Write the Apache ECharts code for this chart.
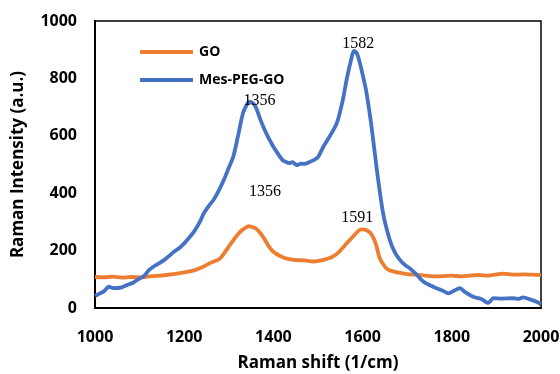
<!DOCTYPE html>
<html>
<head>
<meta charset="utf-8">
<script src="https://cdn.jsdelivr.net/npm/echarts@6/dist/echarts.min.js"></script>
<style>
html,body{margin:0;padding:0;background:#fff;}
#c{width:560px;height:374px;}
</style>
</head>
<body>
<div id="c"></div>
<script>
var seriesNames = ['GO', 'Mes-PEG-GO'];
var xTicks = [1000, 1200, 1400, 1600, 1800, 2000];
var yTicks = [0, 200, 400, 600, 800, 1000];

var goX = [1000,1020,1040,1060,1080,1100,1120,1140,1160,1180,1200,1220,1240,1260,1280,1300,1310,1320,1330,1340,1345,1350,1360,1370,1380,1390,1400,1415,1430,1450,1470,1490,1510,1530,1545,1560,1575,1590,1598,1610,1620,1630,1637,1645,1655,1670,1690,1706,1720,1740,1766,1780,1800,1820,1840,1860,1880,1900,1915,1940,1960,1980,2000];
var goY = [108,107,109,106,108,107,110,112,115,119,124,130,142,158,172,214,236,256,272,282,285,283,278,262,240,214,196,181,172,167,166,162,167,177,192,218,243,268,274,270,257,222,180,155,136,127,121,117,116,113,110,111,113,110,113,115,113,117,120,116,117,116,115];

var mesX = [1000,1010,1020,1031,1043,1060,1072,1085,1095,1110,1121,1135,1155,1165,1177,1190,1200,1210,1222,1235,1244,1255,1267,1280,1290,1299,1310,1320,1332,1340,1345,1352,1360,1370,1380,1390,1400,1410,1420,1427,1435,1443,1452,1462,1470,1480,1490,1500,1512,1527,1542,1555,1564,1572,1581,1587,1594,1602,1609,1620,1632,1646,1661,1672,1684,1695,1706,1720,1736,1750,1766,1780,1792,1805,1818,1830,1848,1865,1882,1893,1910,1938,1950,1960,1975,1990,2000];
var mesY = [42,50,58,74,69,72,80,88,98,112,132,148,167,180,196,210,225,243,266,300,330,355,380,417,450,485,527,595,680,708,718,716,702,660,622,590,562,538,516,510,505,508,498,503,502,508,515,526,562,600,643,720,794,850,896,888,853,800,748,632,481,330,237,195,167,150,138,118,92,80,69,60,51,60,69,55,39,32,18,34,33,34,32,37,30,22,13];

var annotations = [
  {series: 1, text: '1356', x: 1369, y: 722},
  {series: 1, text: '1582', x: 1590, y: 920},
  {series: 0, text: '1356', x: 1381, y: 404},
  {series: 0, text: '1591', x: 1588, y: 314}
];

function pairs(xs, ys) {
  var out = [];
  for (var i = 0; i < xs.length; i++) out.push([xs[i], ys[i]]);
  return out;
}
function marks(idx) {
  return annotations.filter(function (a) { return a.series === idx; }).map(function (a) {
    return {coord: [a.x, a.y], value: a.text};
  });
}

var colors = ['#ED7D31', '#4472C4'];
var seriesData = [pairs(goX, goY), pairs(mesX, mesY)];

var chart = echarts.init(document.getElementById('c'), null, {renderer: 'canvas'});
var axisLabelStyle = {color: '#000', fontFamily: 'Open Sans', fontWeight: 'bold', fontSize: 16,
                      formatter: function (v) { return String(v); }};
chart.setOption({
  animation: false,
  color: colors,
  grid: {left: 95, right: 19, top: 21, bottom: 66, show: true, borderColor: '#000', borderWidth: 1.5,
         containLabel: false, outerBoundsMode: 'none'},
  legend: {
    orient: 'vertical', left: 140, top: 45, padding: 0,
    itemWidth: 53, itemHeight: 4, itemGap: 14,
    icon: 'rect',
    textStyle: {color: '#000', fontFamily: 'Open Sans', fontWeight: 'bold', fontSize: 14, padding: [0, 0, 0, 1]},
    data: seriesNames
  },
  xAxis: {
    type: 'value', min: xTicks[0], max: xTicks[xTicks.length - 1], interval: 200,
    name: 'Raman shift (1/cm)', nameLocation: 'middle', nameGap: 47,
    nameTextStyle: {color: '#000', fontFamily: 'Open Sans', fontWeight: 'bold', fontSize: 17},
    axisLine: {lineStyle: {color: '#000', width: 2}},
    axisTick: {show: false},
    splitLine: {show: false},
    axisLabel: Object.assign({margin: 21}, axisLabelStyle)
  },
  yAxis: {
    type: 'value', min: yTicks[0], max: yTicks[yTicks.length - 1], interval: 200,
    name: 'Raman Intensity (a.u.)', nameLocation: 'middle', nameGap: 68,
    nameTextStyle: {color: '#000', fontFamily: 'Open Sans', fontWeight: 'bold', fontSize: 17},
    axisLine: {show: true, lineStyle: {color: '#000', width: 2}},
    axisTick: {show: false},
    splitLine: {show: false},
    axisLabel: Object.assign({margin: 18}, axisLabelStyle)
  },
  series: seriesNames.map(function (name, i) {
    return {
      name: name, type: 'line', symbol: 'none', showSymbol: false, smooth: 0.25,
      data: seriesData[i],
      lineStyle: {width: 3.8, color: colors[i]},
      itemStyle: {color: colors[i]},
      markPoint: {
        symbol: 'circle', symbolSize: 0, silent: true,
        label: {show: true, position: 'inside', formatter: '{c}', color: '#000',
                fontFamily: 'Liberation Serif', fontSize: 16},
        data: marks(i)
      }
    };
  })
});
</script>
</body>
</html>
